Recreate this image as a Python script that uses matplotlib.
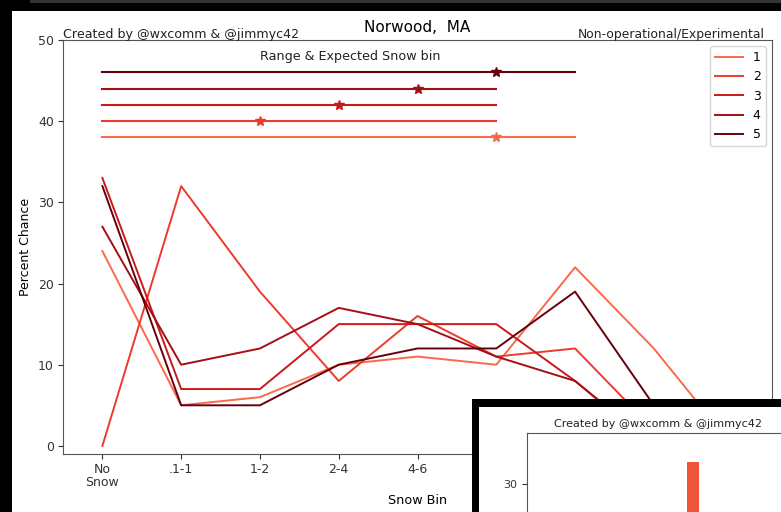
import numpy as np
import matplotlib
matplotlib.use('Agg')
import matplotlib.pyplot as plt
from matplotlib.patches import Rectangle

# snow bins
bins = ['No\nSnow', '.1-1', '1-2', '2-4', '4-6', '6-8', '8-12', '12-18', '18+']

# percent chance per member / bin
s1 = [24, 5, 6, 10, 11, 10, 22, 12, 0]
s2 = [0, 32, 19, 8, 16, 11, 12, 2, 0]
s3 = [33, 7, 7, 15, 15, 15, 8, 0, 0]
s4 = [27, 10, 12, 17, 15, 11, 8, 0, 0]
s5 = [32, 5, 5, 10, 12, 12, 19, 5, 0]
series = [s1, s2, s3, s4, s5]
labels = ['1', '2', '3', '4', '5']

# range & expected bin (start bin, end bin, expected bin, plotted height)
range_lo = [0, 0, 0, 0, 0]
range_hi = [6, 5, 5, 5, 6]
expected = [5, 2, 3, 4, 5]
range_y = [38, 40, 42, 44, 46]

# inset bar chart (only the visible bar)
inset_x = [4]
inset_val = [32.6]

colors = plt.cm.Reds(np.linspace(0.5, 1.0, 5))

W, H = 781, 512
fig = plt.figure(figsize=(W / 100, H / 100), dpi=100)
fig.patch.set_facecolor('black')

def px(x0, y0, x1, y1):
    # pixel box -> figure fraction rect
    return [x0 / W, 1 - y1 / H, (x1 - x0) / W, (y1 - y0) / H]

# screenshot framing
fig.patches.append(Rectangle((30 / W, 1 - 3 / H), 1, 3 / H, transform=fig.transFigure,
                             facecolor='#333333', edgecolor='none', zorder=-2))
fig.patches.append(Rectangle((12 / W, 0), 1, 1 - 11 / H, transform=fig.transFigure,
                             facecolor='white', edgecolor='none', zorder=-1))

ax = fig.add_axes(px(63, 40, 772, 454))
x = np.arange(len(bins))
for i, s in enumerate(series):
    ax.plot(x, s, color=colors[i], lw=1.4, label=labels[i])

for i in range(5):
    ax.plot([range_lo[i], range_hi[i]], [range_y[i], range_y[i]], color=colors[i], lw=1.5)
    ax.plot(expected[i], range_y[i], marker='*', color=colors[i], ms=7)

ax.text(3.15, 48.0, 'Range & Expected Snow bin', ha='center', va='center', fontsize=9.2, color='#222222')

ax.set_xlim(-0.5, 8.5)
ax.set_ylim(-1, 50)
ax.set_xticks(x)
ax.set_xticklabels(bins, fontsize=9, linespacing=0.95)
ax.set_yticks([0, 10, 20, 30, 40, 50])
ax.tick_params(labelsize=9, colors='#333333', pad=3)
ax.set_xlabel('Snow Bin', fontsize=9.2)
ax.set_ylabel('Percent Chance', fontsize=9)
ax.set_title('Norwood,  MA', fontsize=11)
ax.text(0.0, 1.004, 'Created by @wxcomm & @jimmyc42', transform=ax.transAxes,
        ha='left', va='baseline', fontsize=9.1, color='#222222')
ax.text(0.99, 1.004, 'Non-operational/Experimental', transform=ax.transAxes,
        ha='right', va='baseline', fontsize=8.9, color='#222222')
for sp in ax.spines.values():
    sp.set_color('#555555')
ax.legend(loc='upper right', fontsize=9, handlelength=2.2)

# overlapping second screenshot
fig.patches.append(Rectangle((472 / W, 0), 1, 1 - 399 / H, transform=fig.transFigure,
                             facecolor='black', edgecolor='none', zorder=2))
fig.patches.append(Rectangle((479 / W, 0), 1, 1 - 407 / H, transform=fig.transFigure,
                             facecolor='white', edgecolor='none', zorder=2.1))

ax2 = fig.add_axes(px(527, 433, 900, 739), zorder=3)
ax2.bar(inset_x, inset_val, width=0.3, color='#f0553a')
ax2.set_xlim(0, 9)
ax2.set_ylim(0, 36)
ax2.set_yticks([30])
ax2.set_xticks([])
ax2.tick_params(labelsize=8, colors='#333333')
for sp in ax2.spines.values():
    sp.set_color('#555555')
fig.text(658 / W, 1 - 424 / H, 'Created by @wxcomm & @jimmyc42', ha='center', va='center',
         fontsize=8, color='#222222', zorder=4)

fig.savefig('out.png', dpi=100, facecolor=fig.get_facecolor())
